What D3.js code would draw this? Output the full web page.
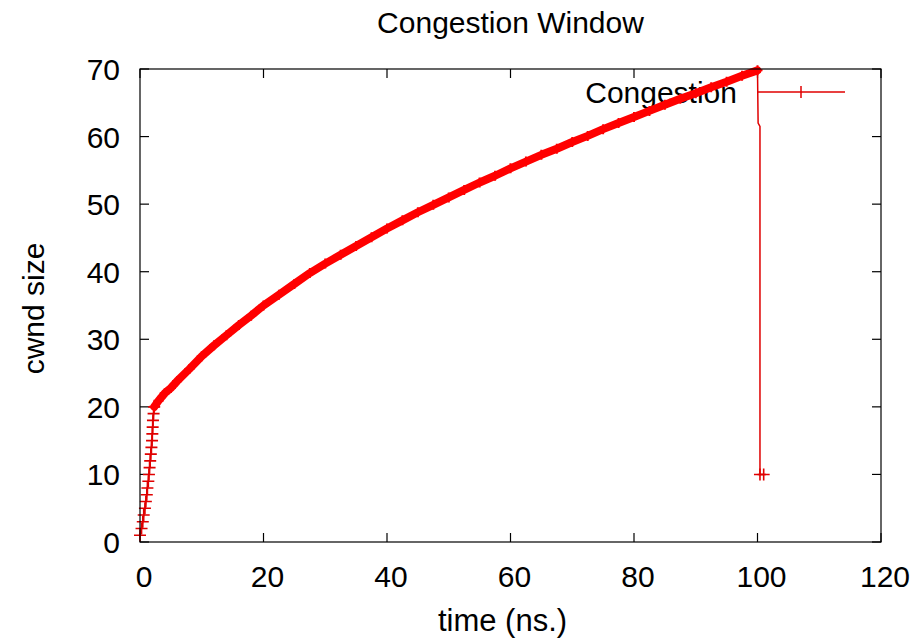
<!DOCTYPE html>
<html>
<head>
<meta charset="utf-8">
<script src="https://cdn.jsdelivr.net/npm/d3@7"></script>
<style>
  body { margin: 0; background: #fff; }
  text { font-family: "Liberation Sans", Arial, sans-serif; fill: #000; }
</style>
</head>
<body>
<div id="chart"></div>
<script>
// slow start phase (thin line with + marks)
var slowTime = [0, 0.25, 0.45, 0.6, 0.8, 0.95, 1.1, 1.2, 1.35, 1.45, 1.55, 1.65, 1.75, 1.85, 1.95, 2.0, 2.05, 2.1, 2.2, 2.3];
var slowCwnd = [1, 2, 3, 4, 5, 6, 7, 8, 9, 10, 11, 12, 13, 14, 15, 16, 17, 18, 19, 20];

// congestion avoidance phase (dense marks -> thick band)
var avoidTime = [2.3, 3, 4, 5, 6, 8, 10, 12, 14, 16, 18, 20, 22.5, 25, 27.5, 30, 32.5, 35, 37.5, 40,
    42.5, 45, 47.5, 50, 52.5, 55, 57.5, 60, 62.5, 65, 67.5, 70, 72.5, 75, 77.5, 80,
    82.5, 85, 87.5, 90, 92.5, 95, 97.5, 100];
var avoidCwnd = [20, 20.9, 22, 22.8, 23.8, 25.6, 27.5, 29.1, 30.6, 32.1, 33.5, 35, 36.6, 38.2, 39.8, 41.2, 42.5, 43.8, 45.1, 46.4,
    47.6, 48.8, 49.9, 51.0, 52.1, 53.2, 54.2, 55.3, 56.3, 57.3, 58.2, 59.2, 60.1, 61.1, 62.0, 62.9,
    63.8, 64.7, 65.6, 66.4, 67.3, 68.1, 69.0, 69.8];

// loss event: drop back to 10
var dropTime = [100, 100.1, 100.4, 100.4, 101];
var dropCwnd = [69.8, 62, 61.5, 10, 10];

var xTicks = [0, 20, 40, 60, 80, 100, 120];
var yTicks = [0, 10, 20, 30, 40, 50, 60, 70];

var W = 917, H = 642;
var margin = { top: 69, right: 36, bottom: 100, left: 140 },
    width = W - margin.left - margin.right,
    height = H - margin.top - margin.bottom;

var red = "#ff0000";
var darkRed = "#e00000";

var svg0 = d3.select("#chart").append("svg")
    .attr("width", W)
    .attr("height", H);

svg0.append("rect").attr("width", W).attr("height", H).attr("fill", "#fff");

var svg = svg0.append("g")
    .attr("transform", "translate(" + margin.left + "," + margin.top + ")");

var x = d3.scaleLinear().domain([0, 120]).range([0, width]);
var y = d3.scaleLinear().domain([0, 70]).range([height, 0]);

// title
svg0.append("text")
    .attr("x", margin.left + width / 2)
    .attr("y", 33)
    .attr("text-anchor", "middle")
    .style("font-size", "30px")
    .text("Congestion Window");

// ticks, mirrored on all four sides, pointing inward
var tick = 9;
svg.append("g").selectAll("line.xb").data(xTicks).enter().append("line")
    .attr("x1", function (d) { return x(d); }).attr("x2", function (d) { return x(d); })
    .attr("y1", height).attr("y2", height - tick);
svg.append("g").selectAll("line.xt").data(xTicks).enter().append("line")
    .attr("x1", function (d) { return x(d); }).attr("x2", function (d) { return x(d); })
    .attr("y1", 0).attr("y2", tick);
svg.append("g").selectAll("line.yl").data(yTicks).enter().append("line")
    .attr("y1", function (d) { return y(d); }).attr("y2", function (d) { return y(d); })
    .attr("x1", 0).attr("x2", tick);
svg.append("g").selectAll("line.yr").data(yTicks).enter().append("line")
    .attr("y1", function (d) { return y(d); }).attr("y2", function (d) { return y(d); })
    .attr("x1", width).attr("x2", width - tick);
svg.selectAll("line").attr("stroke", "#000").attr("stroke-width", 1.2);

// tick labels
svg.append("g").selectAll("text").data(xTicks).enter().append("text")
    .attr("x", function (d) { return x(d) + 4; })
    .attr("y", height + 45)
    .attr("text-anchor", "middle")
    .style("font-size", "30px")
    .text(function (d) { return d; });
svg.append("g").selectAll("text").data(yTicks).enter().append("text")
    .attr("x", -20)
    .attr("y", function (d) { return y(d) + 11; })
    .attr("text-anchor", "end")
    .style("font-size", "30px")
    .text(function (d) { return d; });

// axis titles
svg.append("text")
    .attr("x", width / 2 - 8)
    .attr("y", height + 89)
    .attr("text-anchor", "middle")
    .style("font-size", "31px")
    .text("time (ns.)");
svg.append("text")
    .attr("text-anchor", "middle")
    .attr("transform", "translate(" + (-margin.left + 44) + "," + (height / 2 + 3) + ")rotate(-90)")
    .style("font-size", "30px")
    .text("cwnd size");

// legend text (drawn under the curve, as in the original)
svg.append("text")
    .attr("x", 737 - margin.left)
    .attr("y", 103 - margin.top)
    .attr("text-anchor", "end")
    .style("font-size", "30px")
    .text("Congestion");

var line = d3.line()
    .x(function (d) { return x(d[0]); })
    .y(function (d) { return y(d[1]); });

function plus(g, pts, s, color, sw) {
    g.selectAll(null).data(pts).enter().append("path")
        .attr("d", function (d) {
            var px = x(d[0]), py = y(d[1]);
            return "M" + (px - s) + "," + py + "H" + (px + s) + "M" + px + "," + (py - s) + "V" + (py + s);
        })
        .attr("stroke", color)
        .attr("stroke-width", sw)
        .attr("fill", "none");
}

var slow = d3.zip(slowTime, slowCwnd);
var avoid = d3.zip(avoidTime, avoidCwnd);
var drop = d3.zip(dropTime, dropCwnd);

var plot = svg.append("g");

// slow start
plot.append("path").datum(slow)
    .attr("d", line).attr("fill", "none")
    .attr("stroke", darkRed).attr("stroke-width", 1.5);
plus(plot, slow, 6, darkRed, 1.6);

// drop after congestion
plot.append("path").datum(drop)
    .attr("d", line).attr("fill", "none")
    .attr("stroke", darkRed).attr("stroke-width", 1.5);
plus(plot, drop.slice(3), 6, darkRed, 1.6);

// congestion avoidance band
plot.append("path").datum(avoid)
    .attr("d", line).attr("fill", "none")
    .attr("stroke", red).attr("stroke-width", 8)
    .attr("stroke-linejoin", "round").attr("stroke-linecap", "round");
plus(plot, avoid, 5, red, 2);

// legend sample
var lg = svg0.append("g");
lg.append("line")
    .attr("x1", 757).attr("x2", 845).attr("y1", 92).attr("y2", 92)
    .attr("stroke", darkRed).attr("stroke-width", 1.5);
lg.append("line")
    .attr("x1", 801).attr("x2", 801).attr("y1", 86).attr("y2", 98)
    .attr("stroke", darkRed).attr("stroke-width", 1.5);

// frame
svg.append("rect")
    .attr("width", width).attr("height", height)
    .attr("fill", "none").attr("stroke", "#000").attr("stroke-width", 1.2);
</script>
</body>
</html>
